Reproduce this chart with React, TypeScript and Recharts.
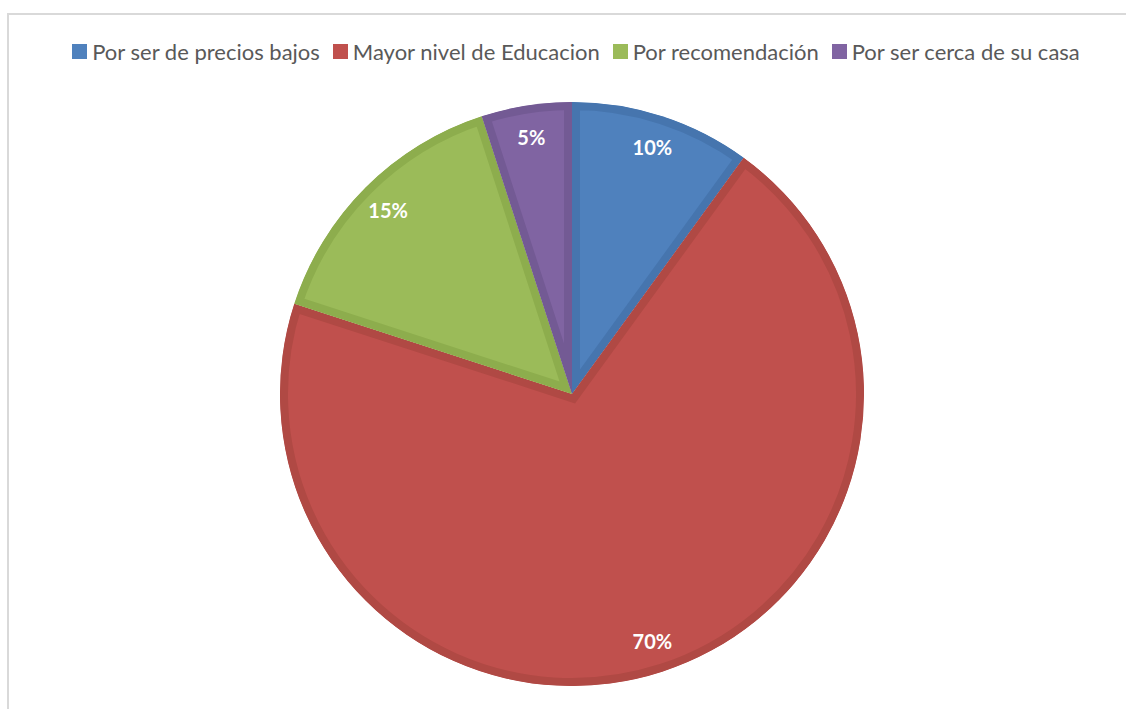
import { PieChart, Pie, Cell, Sector } from "recharts";

const categories = [
  "Por ser de precios bajos",
  "Mayor nivel de Educacion",
  "Por recomendación",
  "Por ser cerca de su casa",
];
const percents = [10, 70, 15, 5];
const fills = ["#4F81BD", "#C0504D", "#9BBB59", "#8064A2"];
const edges = ["#4675AE", "#B04944", "#8DAD4D", "#735A94"];

const data = categories.map((name, i) => ({ name, value: percents[i] }));

const RADIAN = Math.PI / 180;
const FONT = "Lato, 'Open Sans', sans-serif";

// Excel-style slice: darker border drawn inside the slice only
const InsetSector = (props: any) => {
  const { cx, cy, innerRadius, outerRadius, startAngle, endAngle, fill, stroke } = props;
  const id = `clip-${Math.round(startAngle * 10)}`;
  const geom = { cx, cy, innerRadius, outerRadius, startAngle, endAngle };
  return (
    <g>
      <defs>
        <clipPath id={id}>
          <Sector {...geom} />
        </clipPath>
      </defs>
      <Sector {...geom} fill={fill} stroke={stroke} strokeWidth={16} clipPath={`url(#${id})`} />
    </g>
  );
};

const renderLabel = (props: any) => {
  const { cx, cy, midAngle, outerRadius, value } = props;
  const r = outerRadius - 32;
  const x = cx + r * Math.cos(-midAngle * RADIAN);
  const y = cy + r * Math.sin(-midAngle * RADIAN);
  return (
    <text
      x={x}
      y={y}
      fill="#ffffff"
      textAnchor="middle"
      dominantBaseline="central"
      fontFamily={FONT}
      fontWeight={700}
      fontSize={20}
    >
      {`${value}%`}
    </text>
  );
};

const ChartLegend = () => (
  <div
    style={{
      position: "absolute",
      left: 0,
      top: 38,
      width: 1165,
      display: "flex",
      justifyContent: "center",
      alignItems: "center",
      fontFamily: FONT,
      fontSize: 22,
      color: "#595959",
      whiteSpace: "nowrap",
    }}
  >
    {categories.map((c, i) => (
      <span key={c} style={{ display: "inline-flex", alignItems: "center", marginRight: 13 }}>
        <span style={{ width: 15, height: 15, background: fills[i], marginRight: 5, display: "inline-block" }} />
        {c}
      </span>
    ))}
  </div>
);

export default function App() {
  return (
    <div style={{ position: "absolute", left: 0, top: 0, width: 1126, height: 709, overflow: "hidden", background: "#fff" }}>
      <div
        style={{
          position: "absolute",
          left: 7,
          top: 13,
          width: 1200,
          height: 800,
          borderLeft: "2px solid #d9d9d9",
          borderTop: "2px solid #d9d9d9",
        }}
      />
      <ChartLegend />
      <div style={{ position: "absolute", left: 0, top: 0 }}>
        <PieChart width={1126} height={709} margin={{ top: 0, right: 0, bottom: 0, left: 0 }}>
          <Pie
            data={data}
            dataKey="value"
            nameKey="name"
            cx={572}
            cy={394}
            outerRadius={292}
            startAngle={90}
            endAngle={-270}
            label={renderLabel}
            labelLine={false}
            shape={InsetSector}
            inactiveShape={InsetSector}
            activeShape={InsetSector}
            isAnimationActive={false}
          >
            {data.map((entry, i) => (
              <Cell key={entry.name} fill={fills[i]} stroke={edges[i]} />
            ))}
          </Pie>
        </PieChart>
      </div>
    </div>
  );
}
